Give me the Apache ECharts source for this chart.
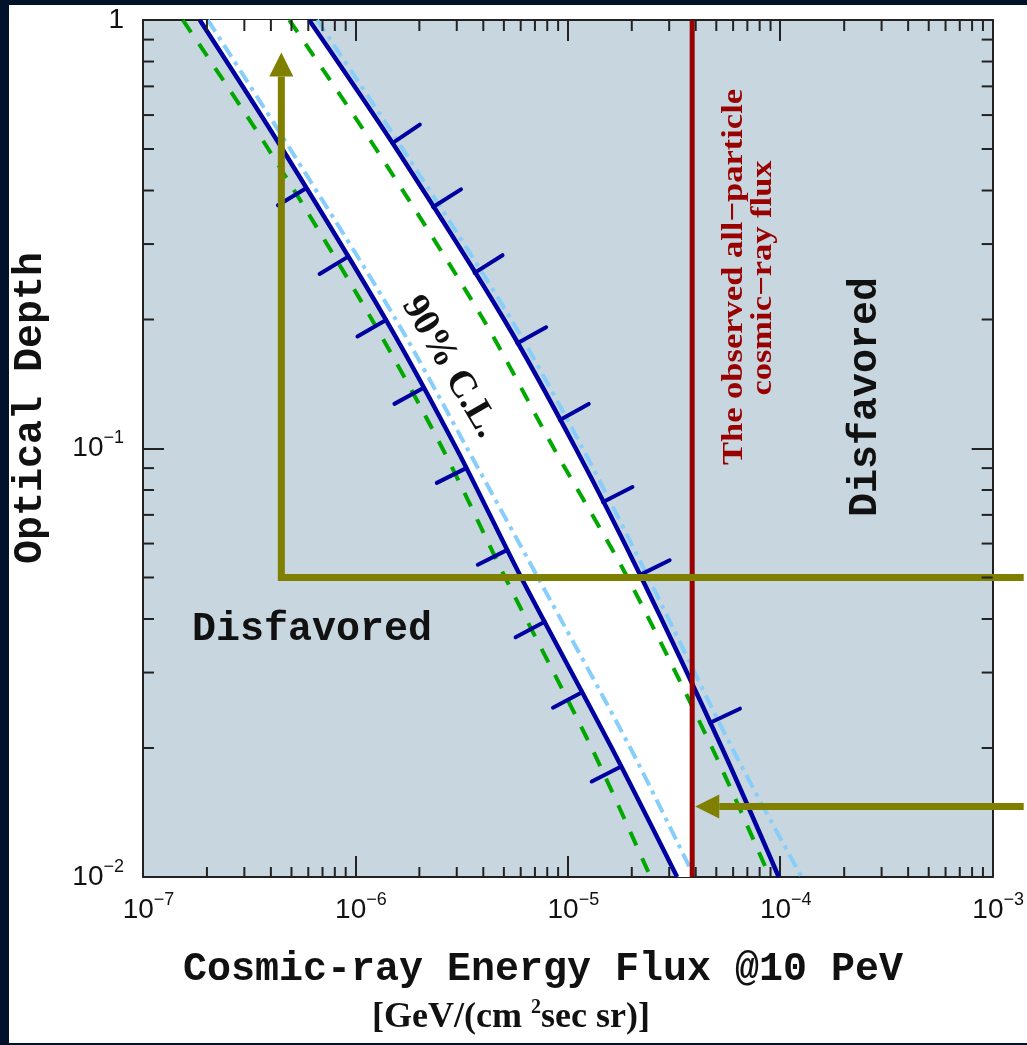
<!DOCTYPE html>
<html>
<head>
<meta charset="utf-8">
<script src="https://cdn.jsdelivr.net/npm/echarts@6/dist/echarts.min.js"></script>
<style>
html, body { margin: 0; padding: 0; background: #fff; }
#chart { width: 1027px; height: 1045px; }
</style>
</head>
<body>
<div id="chart"></div>
<script>
// Optical depth at which every boundary curve is sampled
const depthSamples = [1, 0.5, 0.2, 0.1, 0.05, 0.02, 0.01];

// Cosmic-ray energy flux [GeV/(cm^2 sec sr)] of each curve at those depths
const fluxBlueLow   = [1.85e-7, 4.53e-7, 1.39e-6, 2.99e-6, 6.03e-6, 1.61e-5, 3.27e-5];
const fluxBlueHigh  = [6.05e-7, 1.56e-6, 5.01e-6, 1.09e-5, 2.22e-5, 5.32e-5, 9.84e-5];
const fluxGreenLow  = [1.54e-7, 3.89e-7, 1.195e-6, 2.57e-6, 5.07e-6, 1.295e-5, 2.45e-5];
const fluxGreenHigh = [4.88e-7, 1.25e-6, 4.0e-6, 8.6e-6, 1.91e-5, 4.78e-5, 8.93e-5];
const fluxCyanLow   = [2.02e-7, 4.93e-7, 1.55e-6, 3.36e-6, 7.23e-6, 1.97e-5, 3.94e-5];
const fluxCyanHigh  = [6.6e-7, 1.67e-6, 5.41e-6, 1.175e-5, 2.39e-5, 5.93e-5, 1.26e-4];

// Depths where the exclusion hatches sit on the two 90% C.L. curves
const hatchDepthLow  = [0.405, 0.280, 0.1995, 0.1384, 0.090, 0.058, 0.0394, 0.0270, 0.0181];
const hatchDepthHigh = [0.516, 0.366, 0.257, 0.176, 0.1166, 0.075, 0.0507, 0.0229];

// Observed all-particle cosmic-ray flux
const observedFlux = 3.85e-5;

// Annotation arrows: [flux, depth] vertices, the last one is the tip
const arrowUp   = [[1.4e-3, 0.05], [4.48e-7, 0.05], [4.48e-7, 0.84]];
const arrowLeft = [[1.4e-3, 0.0146], [3.98e-5, 0.0146]];

// Axis ranges and minor tick mantissas
const xRange = [1e-7, 1e-3];
const yRange = [0.01, 1];
const minorMantissas = [2, 3, 4, 5, 6, 7, 8, 9];

const BLUE = '#0000a0', GREEN = '#00a800', CYAN = '#87cefa', RED = '#990000',
      OLIVE = '#7f7f00', PANEL = '#c8d6df', INK = '#111', DARK = '#00132b';

function minorValues(lo, hi) {
  const out = [];
  for (let e = Math.round(Math.log10(lo)); e < Math.round(Math.log10(hi)); e++) {
    minorMantissas.forEach(m => out.push(m * Math.pow(10, e)));
  }
  return out;
}
const xMinor = minorValues(xRange[0], xRange[1]);
const yMinor = minorValues(yRange[0], yRange[1]);

// flux of a curve at a given depth (straight segments in log-log space)
function fluxAt(curve, d) {
  const L = Math.log10(d);
  for (let i = 0; i < depthSamples.length - 1; i++) {
    const a = Math.log10(depthSamples[i]), b = Math.log10(depthSamples[i + 1]);
    if (L <= a && L >= b) {
      const t = (L - a) / (b - a);
      const fa = Math.log10(curve[i]), fb = Math.log10(curve[i + 1]);
      return Math.pow(10, fa + t * (fb - fa));
    }
  }
  return curve[curve.length - 1];
}
// depth at which a curve reaches a given flux
function depthWhere(curve, f) {
  const L = Math.log10(f);
  for (let i = 0; i < curve.length - 1; i++) {
    const a = Math.log10(curve[i]), b = Math.log10(curve[i + 1]);
    if (L >= a && L <= b) {
      const t = (L - a) / (b - a);
      const da = Math.log10(depthSamples[i]), db = Math.log10(depthSamples[i + 1]);
      return Math.pow(10, da + t * (db - da));
    }
  }
  return depthSamples[depthSamples.length - 1];
}

function pairs(curve) { return curve.map((f, i) => [f, depthSamples[i]]); }

function powLabel(v) {
  const e = Math.round(Math.log10(v));
  if (e === 0) return '{b|1}';
  return '{b|10}{s|\u2212' + (-e) + '}';
}
const labelRich = {
  b: { fontFamily: 'Liberation Sans', fontSize: 28, color: INK, lineHeight: 38 },
  s: { fontFamily: 'Liberation Sans', fontSize: 18, color: INK, lineHeight: 18, verticalAlign: 'top' }
};

// white allowed band: between the two C.L. curves and left of the observed flux
function renderBand(params, api) {
  const pts = [];
  for (let i = 0; i < depthSamples.length; i++) pts.push(api.coord([fluxBlueLow[i], depthSamples[i]]));
  const cross = depthWhere(fluxBlueHigh, observedFlux);
  pts.push(api.coord([observedFlux, yRange[0]]));
  pts.push(api.coord([observedFlux, cross]));
  for (let i = depthSamples.length - 1; i >= 0; i--) {
    if (fluxBlueHigh[i] < observedFlux) pts.push(api.coord([fluxBlueHigh[i], depthSamples[i]]));
  }
  return { type: 'polygon', shape: { points: pts }, style: { fill: '#ffffff' } };
}

const HATCH_LEN = 33;
function hatchRenderer(curve, side) {
  return function (params, api) {
    const d = api.value(1);
    const p = api.coord([api.value(0), d]);
    const a = api.coord([fluxAt(curve, d * 1.04), d * 1.04]);
    const b = api.coord([fluxAt(curve, d / 1.04), d / 1.04]);
    let tx = b[0] - a[0], ty = b[1] - a[1];
    const n = Math.hypot(tx, ty); tx /= n; ty /= n;
    const nx = side < 0 ? -ty : ty, ny = side < 0 ? tx : -tx;
    return {
      type: 'line',
      shape: { x1: p[0], y1: p[1], x2: p[0] + nx * HATCH_LEN, y2: p[1] + ny * HATCH_LEN },
      style: { stroke: BLUE, lineWidth: 4, lineCap: 'round' }
    };
  };
}

const arrowPaths = [arrowUp, arrowLeft];
const HEAD_LEN = 24, HEAD_HALF = 12;
function renderArrow(params, api) {
  const path = arrowPaths[params.dataIndex].map(p => api.coord(p));
  const tip = path[path.length - 1], prev = path[path.length - 2];
  let ux = tip[0] - prev[0], uy = tip[1] - prev[1];
  const n = Math.hypot(ux, uy); ux /= n; uy /= n;
  const base = [tip[0] - ux * HEAD_LEN, tip[1] - uy * HEAD_LEN];
  const shaft = path.slice(0, -1).concat([base]);
  return {
    type: 'group',
    children: [
      { type: 'polyline', shape: { points: shaft },
        style: { stroke: OLIVE, lineWidth: 7, fill: null, lineJoin: 'miter' } },
      { type: 'polygon',
        shape: { points: [tip, [base[0] - uy * HEAD_HALF, base[1] + ux * HEAD_HALF],
                              [base[0] + uy * HEAD_HALF, base[1] - ux * HEAD_HALF]] },
        style: { fill: OLIVE } }
    ]
  };
}

const MINOR_LEN = 10;
function renderMinorTicks(params, api) {
  const lt = api.coord([xRange[0], yRange[1]]);
  const rb = api.coord([xRange[1], yRange[0]]);
  const kids = [];
  const st = { stroke: '#222', lineWidth: 2 };
  xMinor.forEach(v => {
    const x = api.coord([v, yRange[0]])[0];
    kids.push({ type: 'line', shape: { x1: x, y1: rb[1], x2: x, y2: rb[1] - MINOR_LEN }, style: st });
    kids.push({ type: 'line', shape: { x1: x, y1: lt[1], x2: x, y2: lt[1] + MINOR_LEN + 1 }, style: st });
  });
  yMinor.forEach(v => {
    const y = api.coord([xRange[0], v])[1];
    kids.push({ type: 'line', shape: { x1: lt[0], y1: y, x2: lt[0] + MINOR_LEN + 1, y2: y }, style: st });
    kids.push({ type: 'line', shape: { x1: rb[0], y1: y, x2: rb[0] - MINOR_LEN - 1, y2: y }, style: st });
  });
  return { type: 'group', children: kids };
}

function curveSeries(curve, color, dash, z) {
  return {
    type: 'line', data: pairs(curve), showSymbol: false, symbol: 'none',
    smooth: 0.3, z: z, silent: true,
    lineStyle: { color: color, width: dash ? 4 : 4.5, type: dash || 'solid' }
  };
}

const axisLineStyle = { color: '#222', width: 2 };
const chart = echarts.init(document.getElementById('chart'), null, { renderer: 'canvas' });

chart.setOption({
  animation: false,
  backgroundColor: '#ffffff',
  grid: { left: 143, top: 20, width: 854, height: 857, show: true, backgroundColor: PANEL, borderWidth: 0 },
  xAxis: [
    { type: 'log', logBase: 10, min: xRange[0], max: xRange[1], position: 'bottom',
      axisLine: { show: true, lineStyle: axisLineStyle },
      axisTick: { show: true, inside: true, length: 21, lineStyle: axisLineStyle },
      splitLine: { show: false }, minorTick: { show: false },
      axisLabel: { formatter: powLabel, rich: labelRich, margin: 14, padding: [0, 0, 0, 11] } },
    { type: 'log', logBase: 10, min: xRange[0], max: xRange[1], position: 'top',
      axisLine: { show: true, lineStyle: axisLineStyle },
      axisTick: { show: true, inside: true, length: 21, lineStyle: axisLineStyle },
      splitLine: { show: false }, axisLabel: { show: false } }
  ],
  yAxis: [
    { type: 'log', logBase: 10, min: yRange[0], max: yRange[1], position: 'left',
      axisLine: { show: true, lineStyle: axisLineStyle },
      axisTick: { show: true, inside: true, length: 21, lineStyle: axisLineStyle },
      splitLine: { show: false }, minorTick: { show: false },
      axisLabel: { formatter: powLabel, rich: labelRich, margin: 19 } },
    { type: 'log', logBase: 10, min: yRange[0], max: yRange[1], position: 'right',
      axisLine: { show: true, lineStyle: axisLineStyle },
      axisTick: { show: true, inside: true, length: 21, lineStyle: axisLineStyle },
      splitLine: { show: false }, axisLabel: { show: false } }
  ],
  series: [
    { type: 'custom', name: 'allowed band', renderItem: renderBand, data: [[1e-5, 0.1]], z: 1, silent: true },
    curveSeries(fluxGreenLow, GREEN, [15, 14], 3),
    curveSeries(fluxGreenHigh, GREEN, [15, 14], 3),
    curveSeries(fluxCyanLow, CYAN, [14, 6, 4, 6], 3),
    curveSeries(fluxCyanHigh, CYAN, [14, 6, 4, 6], 3),
    curveSeries(fluxBlueLow, BLUE, null, 4),
    curveSeries(fluxBlueHigh, BLUE, null, 4),
    { type: 'custom', renderItem: hatchRenderer(fluxBlueLow, -1), z: 4, silent: true,
      data: hatchDepthLow.map(d => [fluxAt(fluxBlueLow, d), d]) },
    { type: 'custom', renderItem: hatchRenderer(fluxBlueHigh, 1), z: 4, silent: true,
      data: hatchDepthHigh.map(d => [fluxAt(fluxBlueHigh, d), d]) },
    { type: 'line', data: [[observedFlux, yRange[0]], [observedFlux, yRange[1]]], symbol: 'none',
      z: 5, silent: true, lineStyle: { color: RED, width: 5 } },
    { type: 'custom', renderItem: renderArrow, clip: false, z: 6, silent: true,
      data: arrowPaths.map(p => p[p.length - 1]) },
    { type: 'custom', renderItem: renderMinorTicks, clip: false, z: 7, silent: true, data: [[1e-5, 0.1]] }
  ],
  graphic: [
    { type: 'text', x: 31, y: 408, rotation: Math.PI / 2, z: 50,
      style: { text: 'Optical Depth', font: 'bold 40px "Liberation Mono"', fill: INK, align: 'center', verticalAlign: 'middle' } },
    { type: 'text', x: 543, y: 970, z: 50,
      style: { text: 'Cosmic-ray Energy Flux @10 PeV', font: 'bold 40px "Liberation Mono"', fill: INK, align: 'center', verticalAlign: 'middle' } },
    { type: 'text', x: 511, y: 1018, z: 50,
      style: { text: '{u|[GeV/(cm }{s|2}{u|sec sr)]}', align: 'center', verticalAlign: 'middle',
        rich: { u: { font: 'bold 36px "Liberation Serif"', fill: INK, lineHeight: 40 },
                s: { font: 'bold 20px "Liberation Serif"', fill: INK, lineHeight: 20, verticalAlign: 'top' } } } },
    { type: 'text', x: 312, y: 630, z: 50,
      style: { text: 'Disfavored', font: 'bold 40px "Liberation Mono"', fill: INK, align: 'center', verticalAlign: 'middle' } },
    { type: 'text', x: 866, y: 397, rotation: Math.PI / 2, z: 50,
      style: { text: 'Disfavored', font: 'bold 40px "Liberation Mono"', fill: INK, align: 'center', verticalAlign: 'middle' } },
    { type: 'text', x: 734, y: 277, rotation: Math.PI / 2, scaleX: 1.15, z: 50,
      style: { text: 'The observed all\u2212particle', font: 'bold 30px "Liberation Serif"', fill: RED, align: 'center', verticalAlign: 'middle' } },
    { type: 'text', x: 763, y: 278, rotation: Math.PI / 2, scaleX: 1.15, z: 50,
      style: { text: 'cosmic\u2212ray flux', font: 'bold 30px "Liberation Serif"', fill: RED, align: 'center', verticalAlign: 'middle' } },
    { type: 'text', x: 450, y: 367, rotation: -1.04, z: 50,
      style: { text: '90% C.L.', font: 'bold 38px "Liberation Serif"', fill: INK, align: 'center', verticalAlign: 'middle' } },
    // dark slide frame
    { type: 'rect', z: 100, shape: { x: 0, y: 0, width: 9, height: 1045 }, style: { fill: DARK } },
    { type: 'rect', z: 100, shape: { x: 0, y: 0, width: 1027, height: 5 }, style: { fill: DARK } },
    { type: 'rect', z: 100, shape: { x: 0, y: 1043, width: 1027, height: 2 }, style: { fill: DARK } }
  ]
});
</script>
</body>
</html>
